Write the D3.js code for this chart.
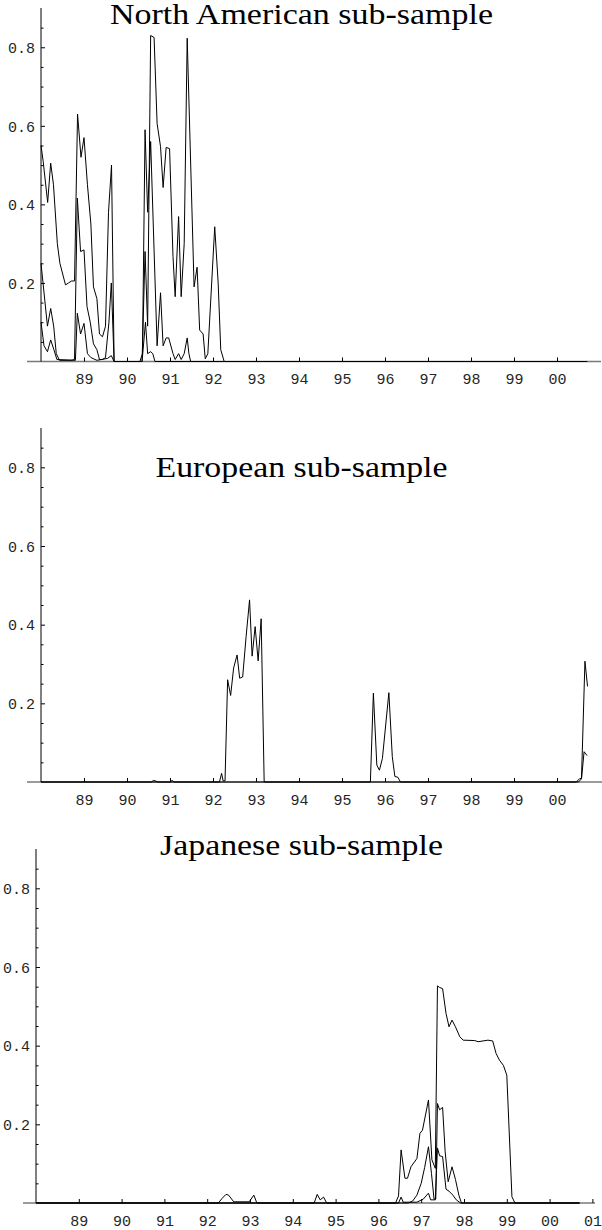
<!DOCTYPE html>
<html>
<head>
<meta charset="UTF-8">
<style>
body, html {
    margin: 0;
    padding: 0;
    background: #ffffff;
    overflow: hidden;
}
.tick text {
    font-family: "Liberation Mono", "Courier New", monospace;
    font-size: 15px;
    fill: #262626;
}
.title {
    font-family: "Liberation Serif", "Times New Roman", serif;
    font-size: 29px;
    fill: #000;
}
</style>
</head>
<body>
<svg id="chart" width="602" height="1230"></svg>
<script src="https://d3js.org/d3.v7.min.js"></script>
<script>
// year ticks (labels are two-digit years)
const yearTicks = [89, 90, 91, 92, 93, 94, 95, 96, 97, 98, 99, 100, 101];
const yearLabels = ["89", "90", "91", "92", "93", "94", "95", "96", "97", "98", "99", "00", "01"];
const yMajor = [0.2, 0.4, 0.6, 0.8];
const yMinor = [0.05, 0.1, 0.15, 0.25, 0.3, 0.35, 0.45, 0.5, 0.55, 0.65, 0.7, 0.75, 0.85];

// North American sub-sample, [year, value]
const naA = [[88.00,0.55],[88.05,0.51],[88.155,0.405],[88.225,0.505],[88.29,0.45],[88.38,0.30],[88.44,0.25],
    [88.57,0.195],[88.64,0.20],[88.71,0.205],[88.78,0.205],[88.85,0.63],[88.93,0.52],[89.00,0.57],[89.08,0.45],
    [89.16,0.35],[89.22,0.19],[89.30,0.16],[89.36,0.07],[89.43,0.063],[89.50,0.09],[89.57,0.38],[89.64,0.50],
    [89.70,0],[90.30,0],[90.36,0.02],[90.42,0.59],[90.48,0.38],[90.55,0.56],[90.70,0.04],[90.78,0.175],
    [90.84,0.04],[90.91,0.06],[90.97,0.06],[91.07,0.02],[91.12,0.005],[91.20,0.02],[91.26,0.005],[91.33,0.02],
    [91.40,0.06],[91.44,0.02],[91.48,0],[100.70,0]];
const naB = [[88.00,0.25],[88.15,0.09],[88.225,0.135],[88.295,0.09],[88.355,0.02],[88.43,0.003],[88.70,0.003],
    [88.78,0.005],[88.845,0.416],[88.92,0.28],[89.00,0.284],[89.07,0.14],[89.145,0.10],[89.22,0.045],[89.30,0.03],
    [89.36,0.005],[89.43,0.005],[89.50,0.01],[89.58,0.10],[89.635,0.20],[89.70,0],[90.35,0],[90.42,0.28],
    [90.48,0.09],[90.55,0.83],[90.63,0.825],[90.70,0.606],[90.78,0.547],[90.84,0.443],[90.91,0.545],[90.99,0.542],
    [91.07,0.267],[91.12,0.165],[91.20,0.369],[91.26,0.165],[91.33,0.30],[91.40,0.823],[91.56,0.19],[91.63,0.24],
    [91.69,0.08],[91.77,0.07],[91.82,0.007],[91.88,0.02],[92.04,0.343],[92.12,0.20],[92.18,0.03],[92.26,0],[100.70,0]];
const naC = [[88.00,0.10],[88.07,0.04],[88.15,0.025],[88.225,0.055],[88.30,0.03],[88.37,0.005],[88.80,0.003],
    [88.845,0.123],[88.92,0.07],[89.00,0.097],[89.08,0.02],[89.16,0.01],[89.30,0.003],[89.55,0.008],[89.635,0.015],
    [89.70,0],[90.35,0],[90.43,0.10],[90.48,0.02],[90.55,0.025],[90.60,0.02],[90.65,0],[100.70,0]];

// European sub-sample
const euA = [[88.00,0],[92.15,0],[92.20,0.022],[92.235,0.003],[92.28,0.003],[92.34,0.26],[92.41,0.22],[92.48,0.29],
    [92.56,0.323],[92.62,0.264],[92.69,0.267],[92.77,0.37],[92.85,0.463],[92.91,0.32],[92.98,0.395],[93.05,0.308],
    [93.12,0.415],[93.19,0],[95.66,0],[95.73,0.226],[95.81,0.043],[95.87,0.03],[95.94,0.06],[96.09,0.227],
    [96.17,0.064],[96.23,0.014],[96.30,0.012],[96.36,0],[100.45,0],[100.52,0.008],[100.57,0.01],[100.65,0.307],
    [100.71,0.243]];
const euB = [[88.00,0],[90.56,0],[90.62,0.004],[90.68,0.002],[90.72,0],[91.00,0],[91.05,0.004],[91.10,0],
    [100.50,0],[100.57,0.008],[100.63,0.077],[100.70,0.067]];

// Japanese sub-sample
const jpA = [[88.00,0],[92.26,0],[92.35,0.012],[92.44,0.022],[92.50,0.02],[92.62,0.003],[92.98,0.003],[93.09,0.02],
    [93.16,0],[94.50,0],[94.57,0.022],[94.64,0.008],[94.72,0.015],[94.79,0],[96.40,0],[96.47,0.018],[96.53,0.135],
    [96.62,0.063],[96.68,0.063],[96.76,0.092],[96.90,0.113],[96.97,0.177],[97.03,0.185],[97.17,0.262],[97.25,0.11],
    [97.33,0.088],[97.38,0.552],[97.43,0.548],[97.50,0.545],[97.58,0.482],[97.65,0.448],[97.72,0.465],[97.80,0.448],
    [97.90,0.423],[97.98,0.414],[98.25,0.413],[98.33,0.41],[98.56,0.414],[98.67,0.412],[98.75,0.38],[98.83,0.363],
    [98.92,0.35],[99.00,0.325],[99.12,0.016],[99.19,0],[100.70,0]];
const jpB = [[88.00,0],[96.70,0],[96.80,0.005],[96.90,0.02],[97.00,0.05],[97.08,0.09],[97.17,0.143],[97.24,0.075],
    [97.30,0.01],[97.34,0.01],[97.38,0.253],[97.43,0.237],[97.50,0.243],[97.56,0.13],[97.63,0.054],[97.72,0.092],
    [97.80,0.06],[97.88,0.02],[97.94,0],[100.70,0]];
const jpC = [[88.00,0],[96.47,0],[96.53,0.015],[96.58,0.002],[96.90,0.002],[97.05,0.01],[97.17,0.025],[97.22,0.008],
    [97.33,0.008],[97.38,0.14],[97.43,0.12],[97.50,0.118],[97.58,0.035],[97.65,0.03],[97.74,0.02],[97.82,0.008],
    [97.92,0],[100.70,0]];

const panels = [
    { title: "North American sub-sample", series: [naA, naB, naC], left: 41, yearW: 43, base: 361.5, top: 8,
      lineStart: 27, lineEnd: 601, lastTick: 100, titleY: 24, titleW: 383 },
    { title: "European sub-sample", series: [euA, euB], left: 41, yearW: 43, base: 782, top: 428,
      lineStart: 27, lineEnd: 602, lastTick: 100, titleY: 477, titleW: 292 },
    { title: "Japanese sub-sample", series: [jpA, jpB, jpC], left: 36, yearW: 42.8, base: 1203, top: 849,
      lineStart: 23, lineEnd: 595, lastTick: 101, titleY: 855, titleW: 283 }
];

const svg = d3.select("#chart");

panels.forEach(p => {
    const g = svg.append("g");
    const x = d3.scaleLinear().domain([88, 101]).range([p.left, p.left + 13 * p.yearW]);
    const y = d3.scaleLinear().domain([0, 0.9]).range([p.base, p.top]);

    // x axis line (grey), data drawn on top of it
    g.append("line")
        .attr("x1", p.lineStart).attr("x2", p.lineEnd)
        .attr("y1", p.base).attr("y2", p.base)
        .attr("stroke", "#7a7a7a").attr("stroke-width", 1.3);

    const ticks = yearTicks.filter(t => t <= p.lastTick);
    const xAxis = g.append("g")
        .attr("transform", `translate(0,${p.base})`)
        .call(d3.axisBottom(x).tickValues(ticks).tickSize(-4).tickSizeOuter(0)
            .tickFormat(d => yearLabels[yearTicks.indexOf(d)]));
    xAxis.select(".domain").remove();
    xAxis.selectAll(".tick line").attr("stroke", "#000");
    xAxis.selectAll(".tick text").attr("y", 22.5).attr("dy", 0);

    // y axis
    const yAxis = g.append("g")
        .attr("transform", `translate(${p.left},0)`)
        .call(d3.axisLeft(y).tickValues(yMajor).tickSize(-4).tickSizeOuter(0).tickPadding(6)
            .tickFormat(d3.format(".1f")));
    yAxis.select(".domain").remove();
    yAxis.selectAll(".tick line").attr("stroke", "#000");
    yAxis.selectAll(".tick text").attr("dy", "0.35em");

    const yMin = g.append("g")
        .attr("transform", `translate(${p.left},0)`)
        .call(d3.axisLeft(y).tickValues(yMinor).tickSize(-2.5).tickFormat(""));
    yMin.select(".domain").remove();
    yMin.selectAll(".tick line").attr("stroke", "#000");

    g.append("line")
        .attr("x1", p.left).attr("x2", p.left)
        .attr("y1", y(0.9)).attr("y2", p.base)
        .attr("stroke", "#000").attr("stroke-width", 1);

    const line = d3.line().x(d => x(d[0])).y(d => y(d[1]));
    g.selectAll("path.series")
        .data(p.series)
        .enter()
        .append("path")
        .attr("class", "series")
        .attr("d", line)
        .attr("fill", "none")
        .attr("stroke", "#000")
        .attr("stroke-width", 1);

    g.append("text")
        .attr("class", "title")
        .attr("x", 301.5)
        .attr("y", p.titleY)
        .attr("text-anchor", "middle")
        .attr("textLength", p.titleW)
        .attr("lengthAdjust", "spacingAndGlyphs")
        .text(p.title);
});
</script>
</body>
</html>
